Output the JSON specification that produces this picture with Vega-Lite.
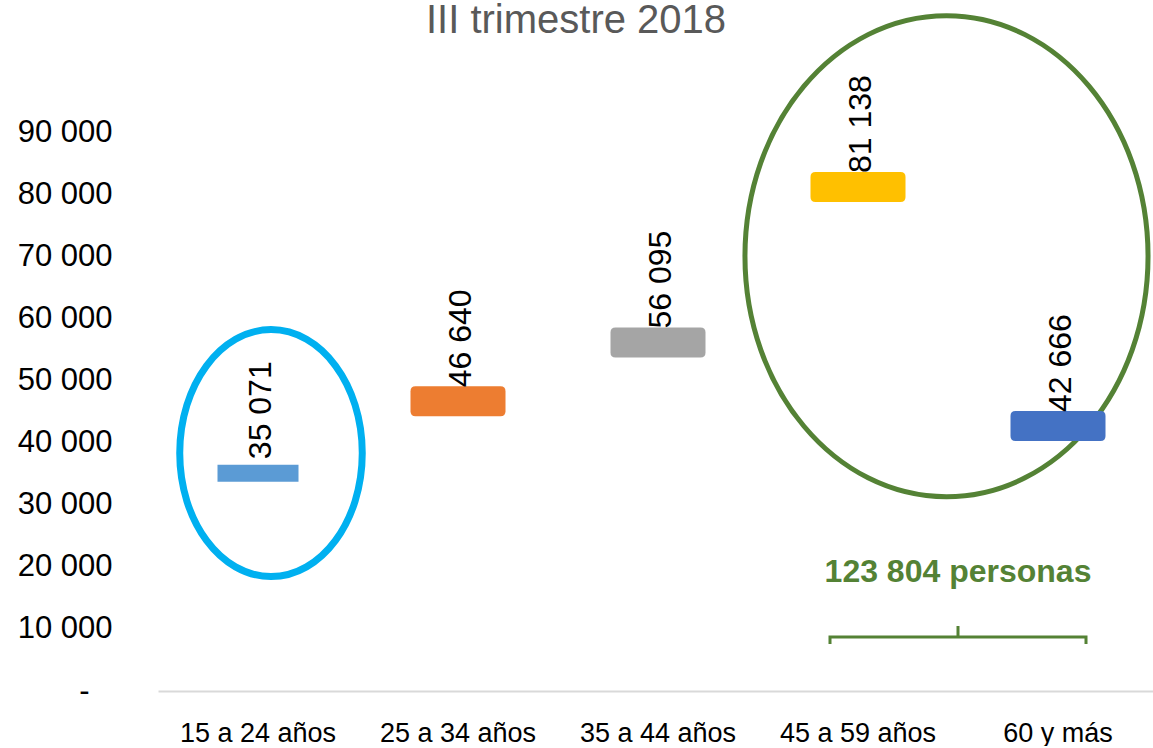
{
  "$schema": "https://vega.github.io/schema/vega-lite/v6.json",
  "width": 1000,
  "height": 559,
  "padding": {"left": 17, "top": 0, "right": 0, "bottom": 0},
  "background": "white",
  "title": {
    "text": "III trimestre 2018",
    "fontSize": 40,
    "font": "Liberation Sans",
    "fontWeight": "normal",
    "color": "#595959",
    "anchor": "middle",
    "frame": "group",
    "baseline": "alphabetic",
    "dx": -82,
    "offset": -67
  },
  "config": {"view": {"stroke": null}, "font": "Liberation Sans"},
  "data": {
    "values": [
      {"grupo": "15 a 24 años", "valor": 35071, "etiqueta": "35 071"},
      {"grupo": "25 a 34 años", "valor": 46640, "etiqueta": "46 640"},
      {"grupo": "35 a 44 años", "valor": 56095, "etiqueta": "56 095"},
      {"grupo": "45 a 59 años", "valor": 81138, "etiqueta": "81 138"},
      {"grupo": "60 y más", "valor": 42666, "etiqueta": "42 666"}
    ]
  },
  "encoding": {
    "x": {
      "field": "grupo",
      "type": "nominal",
      "scale": {"type": "band", "paddingInner": 0, "paddingOuter": 0, "domain": ["15 a 24 años", "25 a 34 años", "35 a 44 años", "45 a 59 años", "60 y más"]},
      "axis": {
        "title": null,
        "labelAngle": 0,
        "labelFontSize": 27,
        "labelFont": "Liberation Sans",
        "labelColor": "#000000",
        "labelPadding": 29,
        "ticks": false,
        "domainColor": "#d9d9d9",
        "domainWidth": 2,
        "grid": false
      }
    },
    "y": {
      "field": "valor",
      "type": "quantitative",
      "scale": {"domain": [0, 90000], "nice": false, "zero": true},
      "axis": {
        "title": null,
        "values": [0, 10000, 20000, 30000, 40000, 50000, 60000, 70000, 80000, 90000],
        "labelExpr": "datum.value == 0 ? '-\u2800' : replace(datum.label, ',', ' ')",
        "labelFontSize": 31,
        "labelFont": "Liberation Sans",
        "labelColor": "#000000",
        "labelPadding": 46,
        "minExtent": 141,
        "maxExtent": 141,
        "ticks": false,
        "domain": false,
        "grid": false
      }
    }
  },
  "layer": [
    {
      "data": {"values": [{"grupo": "15 a 24 años", "valor": 38300}]},
      "mark": {
        "type": "point",
        "shape": "M 0.739 0 C 0.739 0.552 0.408 1 0 1 C -0.408 1 -0.739 0.552 -0.739 0 C -0.739 -0.552 -0.408 -1 0 -1 C 0.408 -1 0.739 -0.552 0.739 0 Z",
        "size": 61009,
        "filled": false,
        "stroke": "#00b0f0",
        "strokeWidth": 7,
        "opacity": 1
      },
      "encoding": {
        "x": {"field": "grupo", "type": "nominal", "bandPosition": 0.565},
        "y": {"field": "valor", "type": "quantitative"}
      }
    },
    {
      "data": {"values": [{"grupo": "45 a 59 años", "valor": 70000}]},
      "mark": {
        "type": "point",
        "shape": "M 0.838 0 C 0.838 0.552 0.463 1 0 1 C -0.463 1 -0.838 0.552 -0.838 0 C -0.838 -0.552 -0.463 -1 0 -1 C 0.463 -1 0.838 -0.552 0.838 0 Z",
        "size": 231361,
        "filled": false,
        "stroke": "#548235",
        "strokeWidth": 5,
        "opacity": 1
      },
      "encoding": {
        "x": {"field": "grupo", "type": "nominal", "bandPosition": 0.9425},
        "y": {"field": "valor", "type": "quantitative"}
      }
    },
    {
      "data": {"values": [{"grupo": "45 a 59 años", "valor": 8700}]},
      "mark": {
        "type": "point",
        "shape": "M -1 0.055 L -1 0 L 1 0 L 1 0.055 M 0 0 L 0 -0.086",
        "size": 65536,
        "filled": false,
        "stroke": "#548235",
        "strokeWidth": 3,
        "opacity": 1
      },
      "encoding": {
        "x": {"field": "grupo", "type": "nominal", "bandPosition": 1},
        "y": {"field": "valor", "type": "quantitative"}
      }
    },
    {
      "data": {"values": [{"grupo": "45 a 59 años", "valor": 19200, "texto": "123 804 personas"}]},
      "mark": {
        "type": "text",
        "align": "center",
        "baseline": "middle",
        "fontSize": 32,
        "fontWeight": "bold",
        "font": "Liberation Sans",
        "color": "#548235"
      },
      "encoding": {
        "x": {"field": "grupo", "type": "nominal", "bandPosition": 1},
        "y": {"field": "valor", "type": "quantitative"},
        "text": {"field": "texto"}
      }
    },
    {
      "transform": [{"filter": "datum.grupo == '15 a 24 años'"}],
      "mark": {
        "type": "point",
        "shape": "M -1 -0.21 L 1 -0.21 L 1 0.21 L -1 0.21 Z",
        "size": 6561,
        "filled": true,
        "opacity": 1,
        "strokeWidth": 0
      },
      "encoding": {
        "color": {
          "field": "grupo",
          "type": "nominal",
          "scale": {"domain": ["15 a 24 años", "25 a 34 años", "35 a 44 años", "45 a 59 años", "60 y más"], "range": ["#5b9bd5", "#ed7d31", "#a5a5a5", "#ffc000", "#4472c4"]},
          "legend": null
        }
      }
    },
    {
      "transform": [{"filter": "datum.grupo != '15 a 24 años'"}],
      "mark": {
        "type": "point",
        "shape": "M -0.895 -0.316 L 0.895 -0.316 Q 1 -0.316 1 -0.211 L 1 0.211 Q 1 0.316 0.895 0.316 L -0.895 0.316 Q -1 0.316 -1 0.211 L -1 -0.211 Q -1 -0.316 -0.895 -0.316 Z",
        "size": 9025,
        "filled": true,
        "opacity": 1,
        "strokeWidth": 0
      },
      "encoding": {
        "color": {
          "field": "grupo",
          "type": "nominal",
          "scale": {"domain": ["15 a 24 años", "25 a 34 años", "35 a 44 años", "45 a 59 años", "60 y más"], "range": ["#5b9bd5", "#ed7d31", "#a5a5a5", "#ffc000", "#4472c4"]},
          "legend": null
        }
      }
    },
    {
      "mark": {
        "type": "text",
        "angle": 270,
        "align": "left",
        "baseline": "middle",
        "dx": 14,
        "dy": 3,
        "fontSize": 32,
        "font": "Liberation Sans",
        "color": "#000000"
      },
      "encoding": {
        "text": {"field": "etiqueta"}
      }
    }
  ]
}
